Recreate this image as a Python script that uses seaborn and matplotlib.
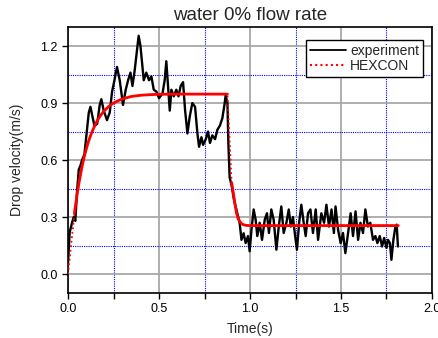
import numpy as np
import pandas as pd
import matplotlib
matplotlib.use("Agg")
import matplotlib.pyplot as plt
import seaborn as sns
from matplotlib.ticker import MultipleLocator
from matplotlib.lines import Line2D

# experiment trace
t_exp = [0.0, 0.009, 0.022, 0.031, 0.04, 0.049, 0.059, 0.068, 0.077, 0.09,
         0.1, 0.114, 0.123, 0.132, 0.145, 0.16, 0.174, 0.183, 0.196, 0.214,
         0.229, 0.242, 0.255, 0.269, 0.284, 0.302, 0.317, 0.33, 0.343, 0.354,
         0.366, 0.379, 0.388, 0.398, 0.409, 0.416, 0.43, 0.445, 0.458, 0.471,
         0.486, 0.5, 0.519, 0.531, 0.54, 0.549, 0.559, 0.568, 0.581, 0.595,
         0.607, 0.619, 0.632, 0.643, 0.656, 0.669, 0.683, 0.698, 0.711, 0.72,
         0.733, 0.742, 0.757, 0.769, 0.78, 0.793, 0.808, 0.821, 0.834, 0.848,
         0.861, 0.866, 0.876, 0.881, 0.888, 0.9, 0.912, 0.925, 0.943, 0.953,
         0.965, 0.976, 0.989, 0.998, 1.008, 1.02,
         1.031, 1.04, 1.053, 1.066, 1.081, 1.093, 1.104, 1.117, 1.13, 1.145,
         1.158, 1.172, 1.185, 1.2, 1.213, 1.224, 1.236, 1.248, 1.258, 1.27,
         1.282, 1.295, 1.306, 1.319, 1.332, 1.346, 1.361, 1.374, 1.392, 1.407,
         1.42, 1.434, 1.448, 1.461, 1.47, 1.484, 1.498, 1.511, 1.524, 1.539,
         1.553, 1.566, 1.58, 1.594, 1.607, 1.621, 1.634, 1.648, 1.661, 1.676,
         1.689, 1.70, 1.713, 1.726, 1.737, 1.75, 1.758, 1.769, 1.777, 1.788,
         1.799, 1.806, 1.813]
v_exp = [0.06, 0.22, 0.27, 0.30, 0.28, 0.43, 0.55, 0.57, 0.60, 0.63,
         0.72, 0.85, 0.88, 0.84, 0.78, 0.79, 0.89, 0.92, 0.86, 0.81,
         0.85, 0.96, 1.02, 1.09, 1.02, 0.89, 0.97, 1.02, 1.06, 0.99,
         1.07, 1.18, 1.254, 1.20, 1.09, 1.02, 1.06, 1.02, 1.04, 0.97,
         0.96, 0.926, 0.95, 1.02, 1.12, 1.0, 0.86, 0.97, 0.935, 0.97,
         0.935, 0.99, 1.01, 0.865, 0.74, 0.83, 0.90, 0.88, 0.74, 0.67,
         0.72, 0.68, 0.71, 0.75, 0.69, 0.73, 0.71, 0.76, 0.78, 0.82,
         0.90, 0.94, 0.90, 0.69, 0.51, 0.46, 0.39, 0.34, 0.27, 0.18,
         0.215, 0.163, 0.2, 0.12, 0.233, 0.34,
         0.286, 0.2, 0.27, 0.18, 0.286, 0.32, 0.216, 0.34, 0.286, 0.128,
         0.25, 0.356, 0.216, 0.27, 0.34, 0.25, 0.30, 0.2, 0.128, 0.27,
         0.365, 0.27, 0.2, 0.32, 0.34, 0.216, 0.34, 0.18, 0.32, 0.27,
         0.365, 0.25, 0.34, 0.216, 0.356, 0.233, 0.163, 0.216, 0.11, 0.216,
         0.32, 0.2, 0.33, 0.18, 0.27, 0.216, 0.34, 0.25, 0.27, 0.18,
         0.2, 0.163, 0.2, 0.145, 0.19, 0.137, 0.18, 0.163, 0.075, 0.18,
         0.25, 0.26, 0.145]

# HEXCON model curve
t_model = [0.0, 0.035, 0.05, 0.062, 0.075, 0.087, 0.1, 0.112, 0.125, 0.137,
           0.15, 0.162, 0.175, 0.187, 0.2, 0.225, 0.25, 0.275, 0.3, 0.35,
           0.4, 0.45, 0.5, 0.6, 0.7, 0.8, 0.876,
           0.899, 0.908, 0.917, 0.926, 0.935, 0.944, 0.953, 0.962, 0.98,
           1.0, 1.2, 1.4, 1.6, 1.815]
v_model = [0.0, 0.32, 0.42, 0.49, 0.557, 0.61, 0.657, 0.697, 0.732, 0.76,
           0.787, 0.81, 0.829, 0.845, 0.86, 0.883, 0.90, 0.912, 0.922, 0.935,
           0.941, 0.944, 0.946, 0.947, 0.947, 0.947, 0.947,
           0.48, 0.43, 0.37, 0.32, 0.29, 0.277, 0.266, 0.26, 0.256,
           0.255, 0.255, 0.255, 0.255, 0.255]

assert len(t_exp) == len(v_exp) and len(t_model) == len(v_model)

exp_df = pd.DataFrame({"t": t_exp, "v": v_exp})
mod_df = pd.DataFrame({"t": t_model, "v": v_model})

sns.set_style("white")
plt.rcParams["font.family"] = ["Liberation Sans", "DejaVu Sans"]

fig = plt.figure(figsize=(4.39, 3.38), dpi=100)
ax = fig.add_axes([0.155, 0.133, 0.829, 0.787])

sns.lineplot(data=exp_df, x="t", y="v", ax=ax, color="black", lw=1.7,
             sort=False, estimator=None, zorder=3)
# model drawn dotted, then solid where the points are close (Origin look)
sns.lineplot(data=mod_df, x="t", y="v", ax=ax, color="red", lw=1.3,
             linestyle=(0, (1, 1.5)), sort=False, estimator=None, zorder=4)
jumps = np.where(np.abs(np.diff(v_model)) > 0.15)[0]
for piece in np.split(np.arange(len(t_model)), jumps + 1):
    if len(piece) > 1:
        ax.plot(np.array(t_model)[piece], np.array(v_model)[piece],
                color="red", lw=2, zorder=4)

ax.set_xlim(0, 2.0)
ax.set_ylim(-0.1, 1.3)
ax.xaxis.set_major_locator(MultipleLocator(0.5))
ax.xaxis.set_minor_locator(MultipleLocator(0.25))
ax.yaxis.set_major_locator(MultipleLocator(0.3))
ax.yaxis.set_minor_locator(MultipleLocator(0.15))
ax.grid(which="major", color="#a8a8a8", lw=1.3, zorder=0)
ax.grid(which="minor", color="blue", lw=0.8, linestyle=(0, (1, 1)), zorder=0)
ax.set_axisbelow(True)
ax.tick_params(which="both", direction="out", length=4, width=1, labelsize=9,
               colors="black", bottom=True, left=True)
ax.tick_params(axis="y", which="minor", length=0)
for s in ax.spines.values():
    s.set_color("black")
    s.set_linewidth(1.2)

ax.set_xlabel("Time(s)", fontsize=10, labelpad=5)
ax.set_ylabel("Drop velocity(m/s)", fontsize=10, labelpad=12)
ax.set_title("water 0% flow rate", fontsize=13.5, pad=5)

handles = [Line2D([], [], color="black", lw=1.3),
           Line2D([], [], color="red", lw=1.5, linestyle=(0, (1, 1.5)))]
leg = ax.legend(handles, ["experiment", "HEXCON"], loc="upper right",
                bbox_to_anchor=(0.974, 0.95), fontsize=10, frameon=True,
                fancybox=False, handlelength=2.6, handletextpad=0.3,
                borderpad=0.25, labelspacing=0.1, borderaxespad=0)
leg.get_frame().set_edgecolor("black")
leg.get_frame().set_linewidth(1.0)
leg.get_frame().set_alpha(1)

fig.savefig("out.png", dpi=100)
